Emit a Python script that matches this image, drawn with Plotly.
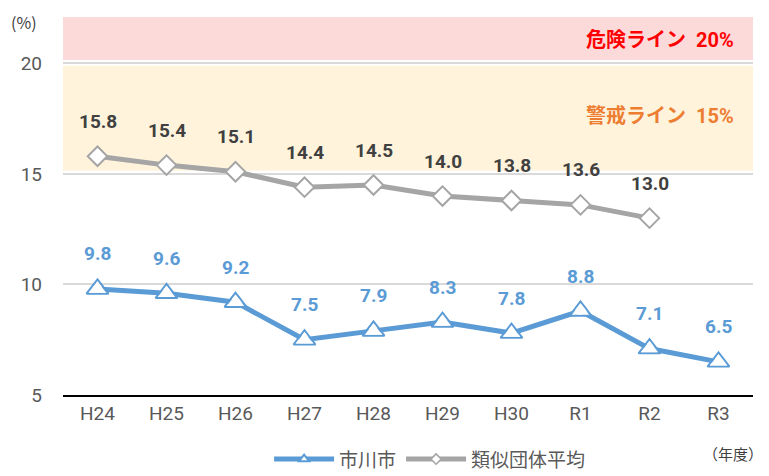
import plotly.graph_objects as go

categories = ["H24", "H25", "H26", "H27", "H28", "H29", "H30", "R1", "R2", "R3"]
ichikawa = [9.8, 9.6, 9.2, 7.5, 7.9, 8.3, 7.8, 8.8, 7.1, 6.5]
ruiji = [15.8, 15.4, 15.1, 14.4, 14.5, 14.0, 13.8, 13.6, 13.0, None]
y_ticks = [5, 10, 15, 20]
danger_line = 20
warning_line = 15

BLUE = "#5B9BD5"
GRAY = "#A5A5A5"
FONT = "'Liberation Sans Narrow', Roboto, 'Noto Sans CJK JP', sans-serif"
JP = "'Noto Sans CJK JP', sans-serif"

fig = go.Figure()
fig.add_trace(go.Scatter(
    x=categories, y=ichikawa, name="市川市", mode="lines+markers", showlegend=False,
    line=dict(color=BLUE, width=5),
    marker=dict(symbol="triangle-up-open", size=19, color=BLUE, line=dict(width=2)),
))
fig.add_trace(go.Scatter(
    x=categories, y=ichikawa, mode="markers", showlegend=False, hoverinfo="skip",
    marker=dict(symbol="triangle-up", size=15, color="white"),
))
fig.add_trace(go.Scatter(
    x=categories, y=ruiji, name="類似団体平均", mode="lines+markers", showlegend=False,
    line=dict(color=GRAY, width=5),
    marker=dict(symbol="diamond", size=15, color="white", line=dict(color=GRAY, width=2)),
))
# legend entries with small markers
fig.add_trace(go.Scatter(
    x=[None], y=[None], name="市川市", mode="lines+markers",
    line=dict(color=BLUE, width=5),
    marker=dict(symbol="triangle-up", size=9, color="white", line=dict(color=BLUE, width=2)),
))
fig.add_trace(go.Scatter(
    x=[None], y=[None], name="類似団体平均", mode="lines+markers",
    line=dict(color=GRAY, width=5),
    marker=dict(symbol="diamond", size=8, color="white", line=dict(color=GRAY, width=1.5)),
))

# bands
fig.add_shape(type="rect", xref="paper", yref="y", x0=0, x1=1, y0=danger_line + 0.15, y1=22.1,
              fillcolor="#FDDADA", line_width=0, layer="below")
fig.add_shape(type="rect", xref="paper", yref="y", x0=0, x1=1, y0=warning_line + 0.15, y1=danger_line - 0.1,
              fillcolor="#FFF3DC", line_width=0, layer="below")

fig.add_annotation(xref="paper", yref="y", x=0.975, y=21.05, xanchor="right", showarrow=False,
                   text="<b>危険ライン  20%</b>", font=dict(color="#FF0000", size=20, family=FONT))
fig.add_annotation(xref="paper", yref="y", x=0.975, y=17.6, xanchor="right", showarrow=False,
                   text="<b>警戒ライン  15%</b>", font=dict(color="#ED7D31", size=20, family=FONT))

for c, v in zip(categories, ichikawa):
    fig.add_annotation(x=c, y=v, yshift=35, showarrow=False, text=f"<b>{v:.1f}</b>",
                       font=dict(color=BLUE, size=19, family=FONT))
for c, v in zip(categories, ruiji):
    if v is None:
        continue
    fig.add_annotation(x=c, y=v, yshift=35, showarrow=False, text=f"<b>{v:.1f}</b>",
                       font=dict(color="#404040", size=19, family=FONT))

fig.add_annotation(xref="paper", yref="paper", x=-0.057, y=0.987, xanchor="center", yanchor="middle",
                   showarrow=False,
                   text="(%)", font=dict(color="#404040", size=16, family=JP))
fig.add_annotation(xref="paper", yref="paper", x=1.017, y=-0.155, xanchor="right", yanchor="middle",
                   showarrow=False,
                   text="（年度）", font=dict(color="#404040", size=15, family=JP))

fig.update_layout(
    width=769, height=476,
    margin=dict(l=63, r=16, t=17, b=81, autoexpand=False),
    plot_bgcolor="white", paper_bgcolor="white",
    font=dict(family=FONT, color="#595959"),
    showlegend=True,
    legend=dict(orientation="h", x=0.532, xanchor="center", y=-0.17, yanchor="middle",
                font=dict(size=19, color="#595959", family=JP),
                itemwidth=60),
    xaxis=dict(type="category", range=[-0.5, 9.5], showgrid=False, automargin=False,
               showline=True, linecolor="black", linewidth=1.5, ticks="",
               tickfont=dict(size=19, color="#595959")),
    yaxis=dict(range=[5, 22.1], tickvals=y_ticks, showgrid=True, gridcolor="#D9D9D9", gridwidth=2,
               zeroline=False, showline=False, ticks="", ticklabelstandoff=20, automargin=False,
               tickfont=dict(size=19, color="#595959")),
)

fig.write_html("out.html", config={"displayModeBar": False},
               post_script="document.body.style.margin='0';")
